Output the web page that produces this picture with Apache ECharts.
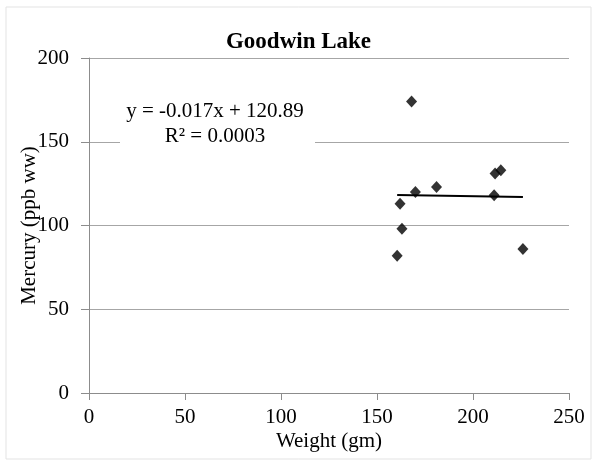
<!DOCTYPE html>
<html>
<head>
<meta charset="utf-8">
<script src="https://cdn.jsdelivr.net/npm/echarts@6/dist/echarts.min.js"></script>
<style>
html,body{margin:0;padding:0;background:#fff;}
#chart{width:597px;height:466px;}
</style>
</head>
<body>
<div id="chart"></div>
<script>
// Fish weight (gm) vs. mercury (ppb wet weight)
const weights = [160.5, 162, 163, 168, 170, 181, 211, 211.5, 214.5, 226];
const mercury = [82, 113, 98, 174, 120, 123, 118, 131, 133, 86];

// Linear fit reported on the chart
const slope = -0.017;
const intercept = 120.89;
const rSquared = '0.0003';

const xTicks = [0, 50, 100, 150, 200, 250];
const yTicks = [0, 50, 100, 150, 200];

const points = weights.map((w, i) => [w, mercury[i]]);
const xMin = Math.min(...weights), xMax = Math.max(...weights);
const trend = [[xMin, slope * xMin + intercept], [xMax, slope * xMax + intercept]];

const font = '"Liberation Serif", "Times New Roman", serif';
const chart = echarts.init(document.getElementById('chart'));
chart.setOption({
  animation: false,
  backgroundColor: '#fff',
  title: {
    text: 'Goodwin Lake',
    left: 'center',
    top: 26,
    textStyle: { fontFamily: font, fontWeight: 'bold', fontSize: 23, color: '#000' }
  },
  grid: { left: 89, right: 28, top: 58, bottom: 73, outerBoundsMode: 'none', containLabel: false },
  xAxis: {
    type: 'value',
    min: xTicks[0], max: xTicks[xTicks.length - 1], interval: 50,
    name: 'Weight (gm)', nameLocation: 'middle', nameGap: 38, nameMoveOverlap: false,
    nameTextStyle: { fontFamily: font, fontSize: 21, color: '#000' },
    axisLine: { lineStyle: { color: '#8c8c8c', width: 1 } },
    axisTick: { show: true, length: 7, inside: false, lineStyle: { color: '#8c8c8c' } },
    axisLabel: { fontFamily: font, fontSize: 21, color: '#000', margin: 14 },
    splitLine: { show: false }
  },
  yAxis: {
    type: 'value',
    min: yTicks[0], max: yTicks[yTicks.length - 1], interval: 50,
    name: 'Mercury (ppb ww)', nameLocation: 'middle', nameGap: 49, nameMoveOverlap: false,
    nameTextStyle: { fontFamily: font, fontSize: 21, color: '#000' },
    axisLine: { show: true, lineStyle: { color: '#8c8c8c', width: 1 } },
    axisTick: { show: true, length: 8, lineStyle: { color: '#8c8c8c' } },
    axisLabel: { fontFamily: font, fontSize: 21, color: '#000', margin: 20 },
    splitLine: { show: true, lineStyle: { color: '#a6a6a6', width: 1 } }
  },
  series: [
    {
      type: 'line',
      data: trend,
      symbol: 'none',
      lineStyle: { color: '#000', width: 2 },
      z: 3
    },
    {
      type: 'scatter',
      data: points,
      symbol: 'diamond',
      symbolSize: [11, 12],
      itemStyle: { color: '#000' },
      z: 4
    }
  ],
  graphic: [
    {
      type: 'rect',
      shape: { x: 6, y: 7, width: 585, height: 452 },
      style: { fill: 'none', stroke: '#e3e3e3', lineWidth: 1 },
      silent: true
    },
    {
      type: 'rect',
      shape: { x: 120, y: 96, width: 195, height: 52 },
      style: { fill: '#fff' },
      z: 10
    },
    {
      type: 'text',
      x: 215, y: 111,
      style: {
        text: 'y = -0.017x + 120.89',
        fontFamily: font, fontSize: 21, fill: '#000',
        align: 'center', verticalAlign: 'middle'
      },
      z: 11
    },
    {
      type: 'text',
      x: 215, y: 136,
      style: {
        text: 'R² = ' + rSquared,
        fontFamily: font, fontSize: 21, fill: '#000',
        align: 'center', verticalAlign: 'middle'
      },
      z: 11
    }
  ]
});
</script>
</body>
</html>
